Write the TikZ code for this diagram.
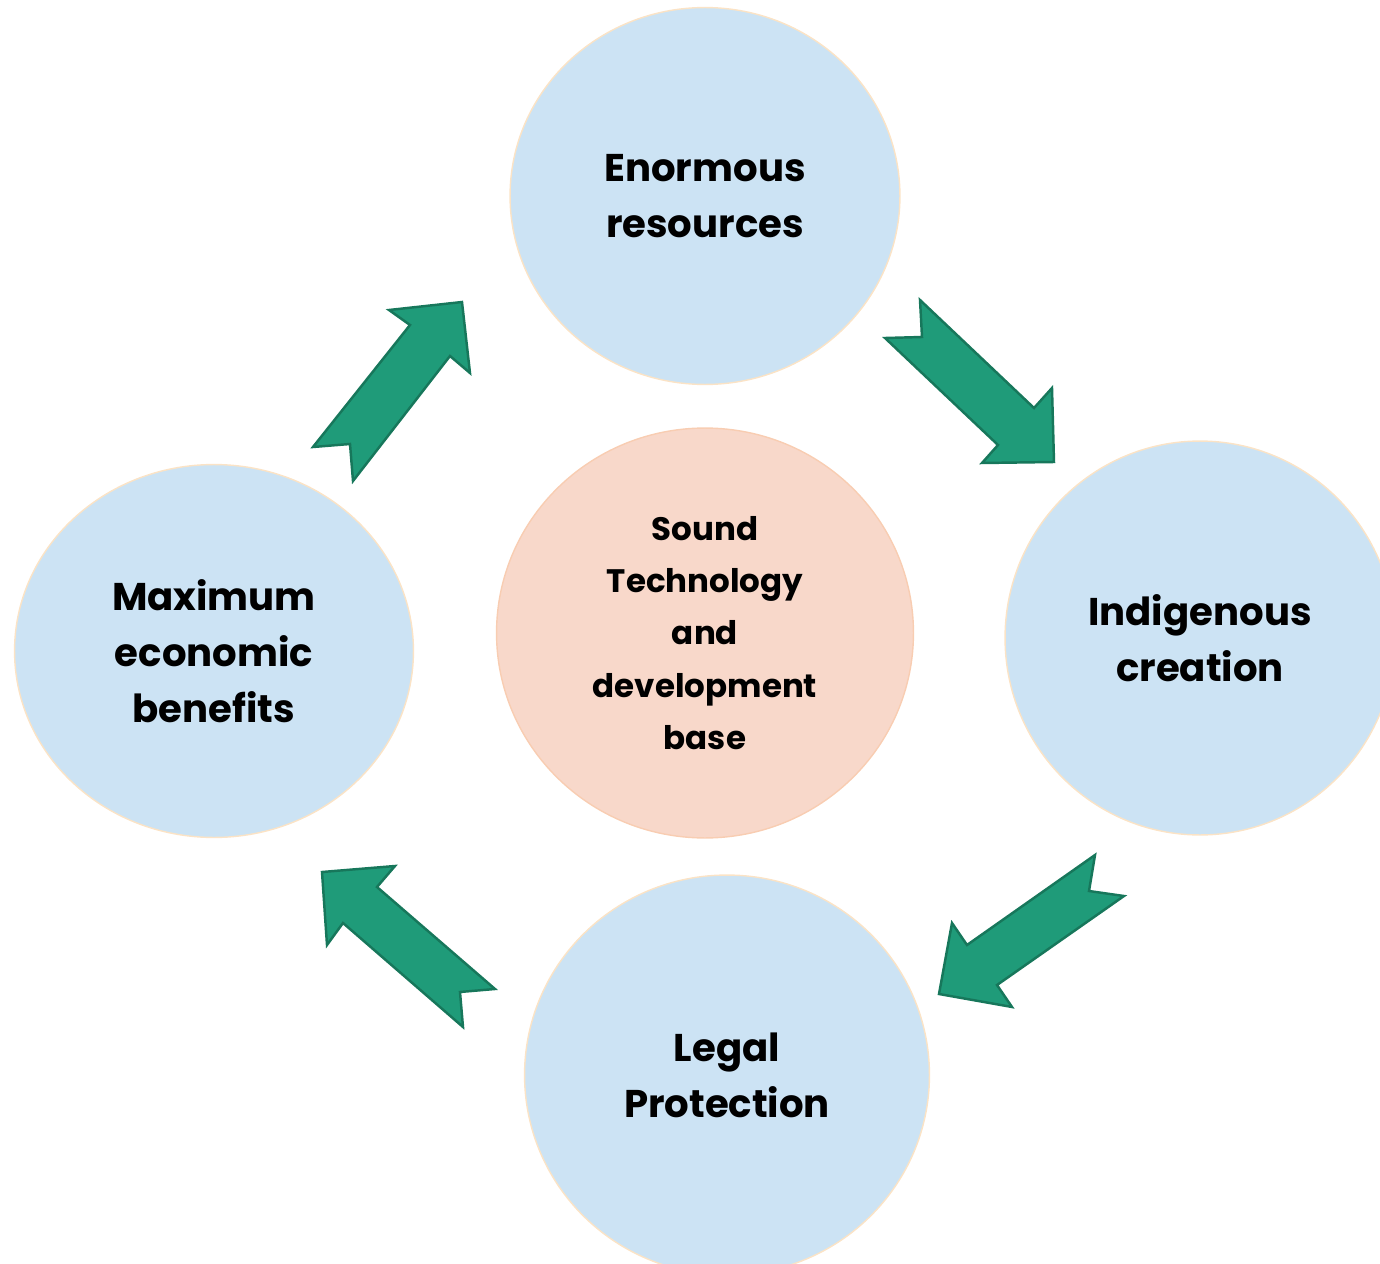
\documentclass[tikz,border=0pt]{standalone}
\usepackage{fontspec}
\setmainfont{Poppins}
\usetikzlibrary{shapes.geometric}

\definecolor{bubbleblue}{HTML}{CCE3F4}
\definecolor{bubbleedge}{HTML}{FBE3C6}
\definecolor{corepeach}{HTML}{F8D8CA}
\definecolor{coreedge}{HTML}{F8CDB2}
\definecolor{arrowgreen}{HTML}{1F9B79}
\definecolor{arrowedge}{HTML}{17775B}

\begin{document}
\begin{tikzpicture}[x=0.02cm, y=-0.02cm,
    bubble/.style={shape=ellipse, draw=bubbleedge, line width=0.8pt, fill=bubbleblue,
      inner sep=0pt, align=center, font=\fontsize{22}{32}\selectfont\bfseries},
    core/.style={shape=ellipse, draw=coreedge, line width=0.8pt, fill=corepeach,
      inner sep=0pt, align=center, font=\fontsize{18.5}{29.8}\selectfont\bfseries},
    bigarrow/.style={fill=arrowgreen, draw=arrowedge, line width=1.4pt, line join=miter}]
      \useasboundingbox (0,0) rectangle (1380,1264);
      \clip (0,0) rectangle (1380,1264);

      % the four outer bubbles and the core
      \node[bubble, minimum width=7.8cm, minimum height=7.54cm] (resources) at (705,196) {Enormous\\resources};
      \node[bubble, minimum width=7.8cm, minimum height=7.88cm] (creation) at (1200,638) {Indigenous\\creation};
      \node[bubble, minimum width=8.1cm, minimum height=8cm] (protection) at (727,1075) {Legal\\Protection};
      \node[bubble, minimum width=7.98cm, minimum height=7.46cm] (benefits) at (214,651) {Maximum\\economic\\benefits};
      \node[core, minimum width=8.34cm, minimum height=8.2cm] (base) at (705,633) {Sound\\Technology\\and\\development\\base};

      % notched block arrows
      \draw[bigarrow] (920,300) -- (1034,408) -- (1052,388) -- (1054,462) -- (982,463) -- (998,445) -- (885,338) -- (922,337) -- cycle;
      \draw[bigarrow] (1095,855) -- (1089,891) -- (1124,896) -- (997,985) -- (1012,1007) -- (939,994) -- (952,923) -- (967,945) -- cycle;
      \draw[bigarrow] (495,989) -- (460,992) -- (463,1027) -- (343,923) -- (327,945) -- (322,872) -- (395,866) -- (377,887) -- cycle;
      \draw[bigarrow] (313,447) -- (410,325) -- (389,310) -- (462,302) -- (470,373) -- (450,356) -- (353,481) -- (350,444) -- cycle;

\end{tikzpicture}
\end{document}
